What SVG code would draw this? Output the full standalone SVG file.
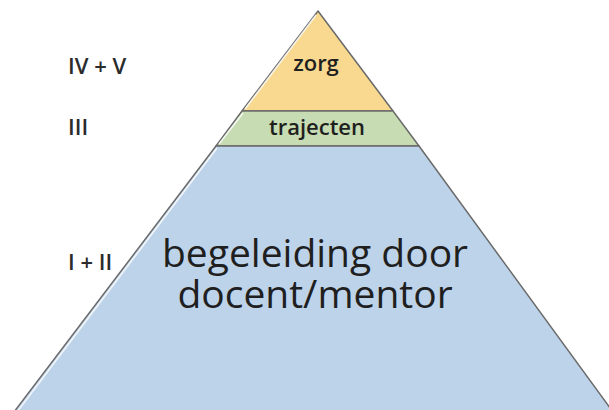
<svg xmlns="http://www.w3.org/2000/svg" width="609" height="410" viewBox="0 0 609 410">
<style>
.edge{stroke:#6b6b6b;stroke-width:1.5;stroke-linejoin:round}
.hl{stroke:#ffffff;stroke-width:1.6;fill:none;opacity:0.8}
.lbl{font-family:"Open Sans","Liberation Sans",sans-serif;fill:#2b2b2b;font-size:22px;font-weight:600}
.t{font-family:"Open Sans","Liberation Sans",sans-serif;fill:#1f1f1f;text-anchor:middle}
</style>
<rect width="609" height="410" fill="#ffffff"/>
<g id="level-zorg">
<polygon class="edge" points="318,11 242,111 393,111" fill="#f8d98f"/>
<line class="hl" x1="316" y1="15" x2="245" y2="109"/>
<text class="t" x="316" y="71" font-size="22" font-weight="600">zorg</text>
</g>
<g id="level-trajecten">
<polygon class="edge" points="242,111 393,111 419,146 216,146" fill="#c7dcb2"/>
<line class="hl" x1="243" y1="113" x2="219" y2="144"/>
<text class="t" x="317" y="135" font-size="22" font-weight="600">trajecten</text>
</g>
<g id="level-begeleiding">
<polygon class="edge" points="216,146 419,146 613,412 14,412" fill="#bdd3ea"/>
<line class="hl" x1="217" y1="148" x2="17" y2="412"/>
<text class="t" x="315" y="267" font-size="39">begeleiding door</text>
<text class="t" x="315" y="308" font-size="39">docent/mentor</text>
</g>
<g id="labels">
<text class="lbl" x="68" y="74">IV + V</text>
<text class="lbl" x="68" y="135">III</text>
<text class="lbl" x="68" y="270">I + II</text>
</g>
<g id="connectors"></g>
</svg>
